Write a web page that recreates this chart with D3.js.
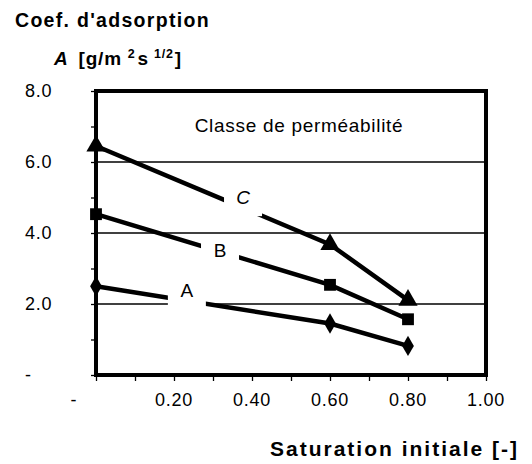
<!DOCTYPE html>
<html>
<head>
<meta charset="utf-8">
<script src="https://cdn.jsdelivr.net/npm/d3@7"></script>
<style>
  body { margin: 0; background: #fff; }
  text { font-family: "Liberation Sans", Arial, sans-serif; fill: #000; }
</style>
</head>
<body>
<script>
const width = 532;
const height = 464;

// values
const saturation = [0, 0.6, 0.8];
const classA = [2.5, 1.45, 0.82];
const classB = [4.53, 2.54, 1.57];
const classC = [6.45, 3.68, 2.11];
const series = [
    {name: "A", values: classA, marker: "diamond", italic: false},
    {name: "B", values: classB, marker: "square", italic: false},
    {name: "C", values: classC, marker: "triangle", italic: true}
];
const xTicks = [0, 0.2, 0.4, 0.6, 0.8, 1.0];
const yTicks = [0, 2, 4, 6, 8];
const gridValues = [2, 4, 6];
// where the class letters sit, in data units
const labelAt = {A: [0.233, 2.39], B: [0.318, 3.52], C: [0.377, 5.01]};

const margin = {left: 96, right: 46, top: 91, bottom: 89};

const x = d3.scaleLinear().domain([0, 1]).range([margin.left, width - margin.right]);
const y = d3.scaleLinear().domain([0, 8]).range([height - margin.bottom, margin.top]);

const svg = d3.select("body").append("svg")
    .attr("width", width)
    .attr("height", height);

const fmtX = d => d === 0 ? "-" : d3.format(".2f")(d);
const fmtY = d => d === 0 ? "-" : d3.format(".1f")(d);

// gridlines
svg.selectAll("line.grid")
    .data(gridValues)
    .join("line")
    .attr("class", "grid")
    .attr("x1", x(0)).attr("x2", x(1))
    .attr("y1", d => y(d)).attr("y2", d => y(d))
    .style("stroke", "#000")
    .style("stroke-width", 1.3);

// minor ticks
svg.append("g")
    .attr("transform", `translate(0,${y(0)})`)
    .call(d3.axisBottom(x).tickValues(d3.range(0, 1.01, 0.1)).tickSize(6).tickFormat(""))
    .call(g => g.select(".domain").remove())
    .selectAll("line").style("stroke-width", 1.3);

svg.append("g")
    .attr("transform", `translate(${x(0)},0)`)
    .call(d3.axisLeft(y).tickValues(d3.range(0, 8.01, 1)).tickSize(5).tickFormat(""))
    .call(g => g.select(".domain").remove())
    .selectAll("line").style("stroke-width", 1.3);

// tick labels
svg.append("g")
    .selectAll("text")
    .data(xTicks)
    .join("text")
    .attr("x", d => x(d) + (d === 0 ? -22 : 0))
    .attr("y", y(0) + 31)
    .attr("text-anchor", "middle")
    .style("font-size", "18px")
    .style("letter-spacing", "0.8px")
    .text(fmtX);

svg.append("g")
    .selectAll("text")
    .data(yTicks)
    .join("text")
    .attr("x", 25)
    .attr("y", d => y(d) + 6)
    .attr("text-anchor", "start")
    .style("font-size", "18px")
    .style("letter-spacing", "0.8px")
    .text(fmtY);

// frame
svg.append("rect")
    .attr("x", x(0)).attr("y", y(8))
    .attr("width", x(1) - x(0)).attr("height", y(0) - y(8))
    .style("fill", "none")
    .style("stroke", "#000")
    .style("stroke-width", 4);

// series lines
const line = d3.line()
    .x((d, i) => x(saturation[i]))
    .y(d => y(d));

svg.selectAll("path.series")
    .data(series)
    .join("path")
    .attr("class", "series")
    .attr("d", d => line(d.values))
    .style("fill", "none")
    .style("stroke", "#000")
    .style("stroke-width", 4.5);

const symbolType = {diamond: d3.symbolDiamond, square: d3.symbolSquare, triangle: d3.symbolTriangle};
const symbolSize = {diamond: 120, square: 140, triangle: 160};

series.forEach(s => {
    svg.append("g")
        .selectAll("path")
        .data(s.values)
        .join("path")
        .attr("transform", (d, i) => `translate(${x(saturation[i])},${y(d)})`)
        .attr("d", d3.symbol().type(symbolType[s.marker]).size(symbolSize[s.marker]))
        .style("fill", "#000");
});

// class letters on white boxes
series.forEach(s => {
    const [lx, ly] = labelAt[s.name];
    svg.append("rect")
        .attr("x", x(lx) - 19).attr("y", y(ly) - 12)
        .attr("width", 38).attr("height", 31)
        .style("fill", "#fff");
    svg.append("text")
        .attr("x", x(lx))
        .attr("y", y(ly) + 7)
        .attr("text-anchor", "middle")
        .style("font-size", "19px")
        .style("font-style", s.italic ? "italic" : "normal")
        .text(s.name);
});

svg.append("text")
    .attr("x", 299)
    .attr("y", 132)
    .attr("text-anchor", "middle")
    .style("font-size", "19px")
    .style("letter-spacing", "0.7px")
    .text("Classe de perméabilité");

// titles
svg.append("text")
    .attr("x", 15)
    .attr("y", 27)
    .style("font-size", "19.5px")
    .style("font-weight", "bold")
    .style("letter-spacing", "1.3px")
    .text("Coef. d'adsorption");

const yTitle = svg.append("text")
    .attr("x", 54)
    .attr("y", 65)
    .style("font-size", "19px")
    .style("font-weight", "bold")
    .style("letter-spacing", "0.8px");
yTitle.append("tspan").style("font-style", "italic").text("A");
yTitle.append("tspan").attr("dx", 10).text("[g/m");
yTitle.append("tspan").attr("dx", 6).attr("dy", -7).style("font-size", "12.5px").text("2");
yTitle.append("tspan").attr("dx", 2).attr("dy", 7).text("s");
yTitle.append("tspan").attr("dx", 5).attr("dy", -7).style("font-size", "12.5px").text("1/2");
yTitle.append("tspan").attr("dx", 1).attr("dy", 7).text("]");

svg.append("text")
    .attr("x", 519)
    .attr("y", 456)
    .attr("text-anchor", "end")
    .style("font-size", "21px")
    .style("font-weight", "bold")
    .style("letter-spacing", "2px")
    .text("Saturation initiale [-]");
</script>
</body>
</html>
